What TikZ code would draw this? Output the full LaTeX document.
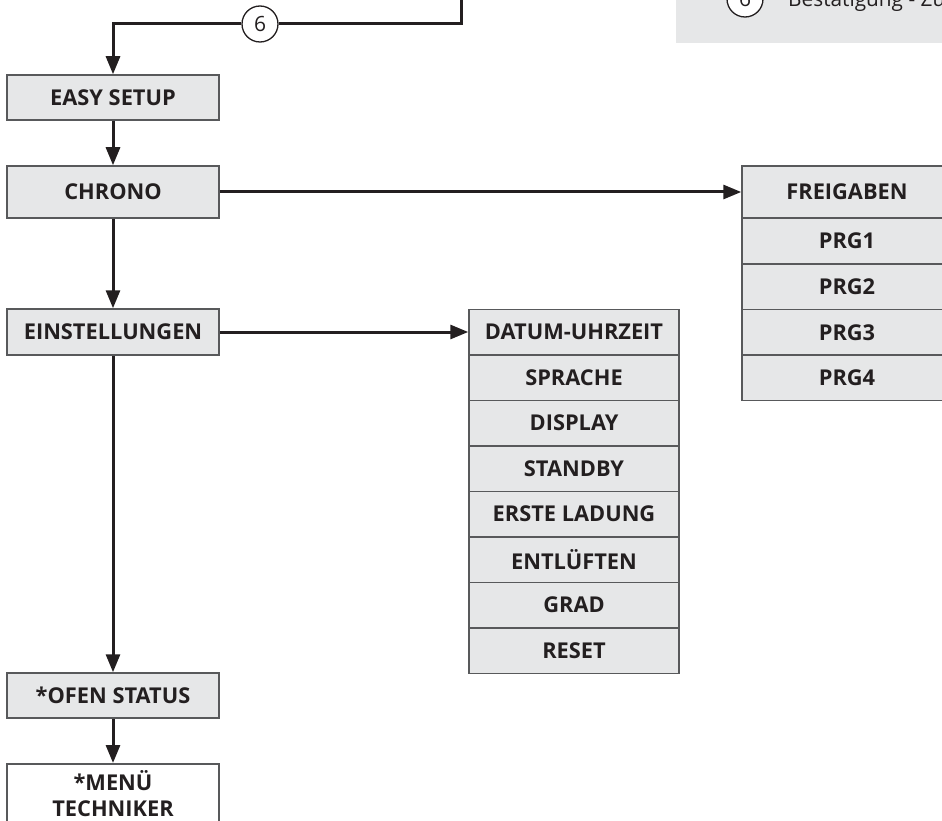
\documentclass[tikz,border=0pt]{standalone}
\usepackage{fontspec}
\setmainfont{Open Sans}
\usetikzlibrary{arrows.meta}

\definecolor{boxgray}{HTML}{E6E7E8}
\definecolor{boxline}{HTML}{58595B}
\definecolor{linecol}{HTML}{231F20}

\tikzset{
    menubox/.style={draw=boxline, line width=1.5pt, fill=boxgray,
        minimum width=212pt, minimum height=45pt, inner sep=0pt,
        font=\fontsize{21.8}{26}\selectfont\bfseries, text=linecol},
    subbox/.style={menubox, minimum width=210pt, minimum height=45.5pt},
    conn/.style={draw=linecol, line width=3pt},
    arrowed/.style={-{Triangle[length=18pt,width=14pt]}},
    numcircle/.style={circle, draw=linecol, line width=1.3pt, fill=white,
        minimum size=36pt, inner sep=0pt,
        font=\fontsize{21}{24}\selectfont, text=linecol}
}

\begin{document}
\begin{tikzpicture}[x=1pt, y=-1pt]
    \useasboundingbox (0, 0) rectangle (942, 821);
    \clip (0, 0) rectangle (942, 821);

    % legend, cut at the top
    \fill[boxgray] (676, -5) rectangle (950, 43);
    \node[numcircle] (leg6) at (745, -1) {6};
    \node[anchor=base west, inner sep=0pt, text=linecol,
        font=\fontsize{20.8}{25}\selectfont] (legtext) at (788, 7)
        {Bestätigung - Zu};

    % main column
    \node[menubox] (easy) at (113, 97.5) {EASY SETUP};
    \node[menubox, minimum height=52pt] (chrono) at (113, 192) {CHRONO};
    \node[menubox, minimum height=46pt] (einst) at (113, 332) {EINSTELLUNGEN};
    \node[menubox] (ofen) at (113, 695.5) {*OFEN STATUS};
    \node[menubox, fill=white, anchor=north, minimum height=60pt,
        align=center] (techniker) at (113, 763) {*MENÜ\\TECHNIKER};

    % einstellungen
    \node[subbox] (datum) at (574, 332) {DATUM-UHRZEIT};
    \node[subbox] (sprache) at (574, 377.5) {SPRACHE};
    \node[subbox] (display) at (574, 423) {DISPLAY};
    \node[subbox] (standby) at (574, 468.5) {STANDBY};
    \node[subbox] (ladung) at (574, 514) {ERSTE LADUNG};
    \node[subbox] (entlueften) at (574, 559.5) {ENTLÜFTEN};
    \node[subbox] (grad) at (574, 605) {GRAD};
    \node[subbox] (reset) at (574, 650.5) {RESET};

    % chrono
    \node[subbox, minimum height=52pt] (freigaben) at (847, 192) {FREIGABEN};
    \node[subbox, minimum height=46pt] (prg1) at (847, 241) {PRG1};
    \node[subbox] (prg2) at (847, 286.75) {PRG2};
    \node[subbox] (prg3) at (847, 332.25) {PRG3};
    \node[subbox] (prg4) at (847, 377.75) {PRG4};

    % step 6 coming in from above
    \node[numcircle] (six) at (260, 24) {6};
    \coordinate (entry) at (461, -5);
    \draw[conn] (entry) |- (six.east);
    \draw[conn, arrowed] (six.west) -| (easy.north);

    \draw[conn, arrowed] (easy) -- (chrono);
    \draw[conn, arrowed] (chrono) -- (einst);
    \draw[conn, arrowed] (einst) -- (ofen);
    \draw[conn, arrowed] (ofen) -- (techniker);
    \draw[conn, arrowed] (chrono) -- (freigaben);
    \draw[conn, arrowed] (einst) -- (datum);
\end{tikzpicture}
\end{document}
